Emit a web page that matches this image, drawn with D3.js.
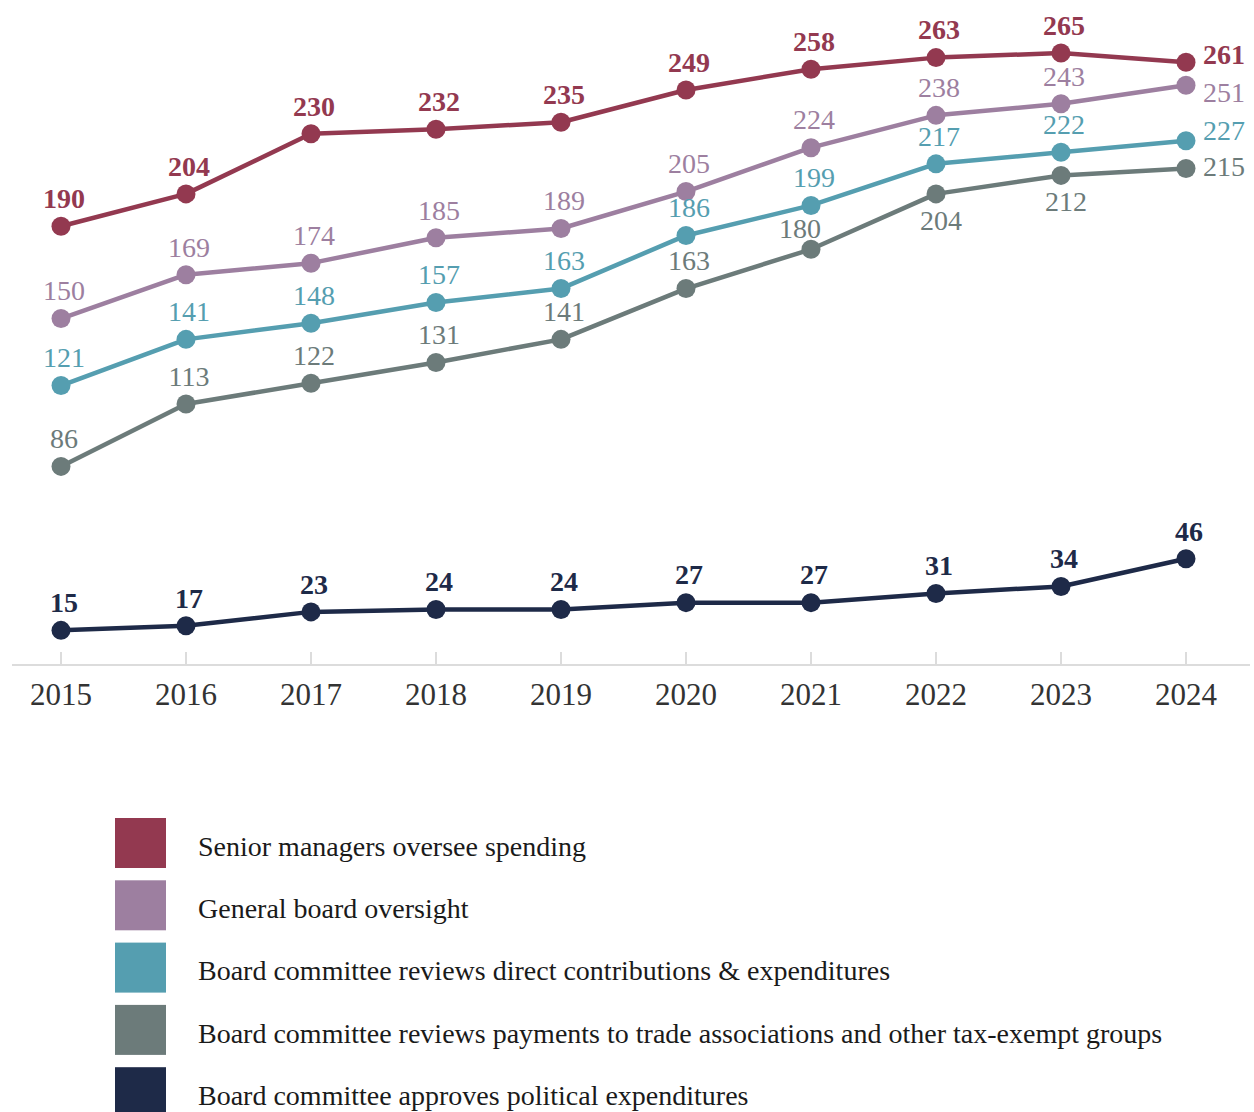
<!DOCTYPE html>
<html lang="en">
<head>
<meta charset="UTF-8">
<script src="https://d3js.org/d3.v7.min.js"></script>
<title>Oversight of political spending</title>
<style>
  body { margin: 0; background: #fff; }
  svg { display: block; font-family: "Liberation Serif", "DejaVu Serif", serif; }
</style>
</head>
<body>
<div id="chart"></div>
<script>
// data
const years = [2015, 2016, 2017, 2018, 2019, 2020, 2021, 2022, 2023, 2024];
const seniorManagers = [190, 204, 230, 232, 235, 249, 258, 263, 265, 261];
const generalBoard   = [150, 169, 174, 185, 189, 205, 224, 238, 243, 251];
const committeeDirect = [121, 141, 148, 157, 163, 186, 199, 217, 222, 227];
const committeeTrade  = [86, 113, 122, 131, 141, 163, 180, 204, 212, 215];
const committeeApproves = [15, 17, 23, 24, 24, 27, 27, 31, 34, 46];
const seriesNames = [
  "Senior managers oversee spending",
  "General board oversight",
  "Board committee reviews direct contributions & expenditures",
  "Board committee reviews payments to trade associations and other tax-exempt groups",
  "Board committee approves political expenditures"
];
const colors = ["#933950", "#9d7fa0", "#559eb0", "#6c7b7a", "#1e2a48"];

const series = [seniorManagers, generalBoard, committeeDirect, committeeTrade, committeeApproves]
  .map((vals, i) => ({ name: seriesNames[i], color: colors[i], values: vals, bold: i === 0 || i === 4 }));

const w = 1254, h = 1112;
const svg = d3.select("#chart").append("svg").attr("width", w).attr("height", h);

const x = d3.scaleLinear().domain([2015, 2024]).range([61, 1186]);
const y = d3.scaleLinear().domain([0, 265]).range([665, 53]);

// axis
const axis = svg.append("g").attr("transform", "translate(0,665)");
axis.append("line").attr("x1", 12).attr("x2", 1250).attr("stroke", "#dcdcdc").attr("stroke-width", 2);
axis.selectAll(".tick").data(years).join("line")
  .attr("x1", d => x(d)).attr("x2", d => x(d))
  .attr("y1", 0).attr("y2", -13)
  .attr("stroke", "#dcdcdc").attr("stroke-width", 2);
axis.selectAll("text").data(years).join("text")
  .attr("x", d => x(d)).attr("y", 40)
  .attr("text-anchor", "middle")
  .attr("font-size", 31).attr("fill", "#333")
  .text(d => d);

const line = d3.line().x((d, i) => x(years[i])).y(d => y(d));

// label placement tweaks (series index -> year index -> [dx, dy, anchor])
function labelPos(si, yi) {
  if (yi === years.length - 1 && si < 4) {
    const dy = [-8, 7, -11, -2][si];
    return [17, dy, "start"];
  }
  if (si === 3 && (yi === 7 || yi === 8)) return [5, 26, "middle"];
  if (si === 3 && yi === 6) return [-11, -21, "middle"];
  return [3, -28, "middle"];
}

series.forEach((s, si) => {
  const g = svg.append("g");
  g.append("path").datum(s.values)
    .attr("d", line)
    .attr("fill", "none")
    .attr("stroke", s.color)
    .attr("stroke-width", 4.5)
    .attr("stroke-linejoin", "round");
  g.selectAll("circle").data(s.values).join("circle")
    .attr("cx", (d, i) => x(years[i]))
    .attr("cy", d => y(d))
    .attr("r", 9.5)
    .attr("fill", s.color);
  g.selectAll("text").data(s.values).join("text")
    .attr("x", (d, i) => x(years[i]) + labelPos(si, i)[0])
    .attr("y", (d, i) => y(d) + labelPos(si, i)[1])
    .attr("dy", "0.35em")
    .attr("text-anchor", (d, i) => labelPos(si, i)[2])
    .attr("font-size", 28)
    .attr("font-weight", s.bold ? "bold" : "normal")
    .attr("fill", s.color)
    .text(d => d);
});

// legend
const legend = svg.append("g").attr("transform", "translate(115,818)");
const item = legend.selectAll("g").data(series).join("g")
  .attr("transform", (d, i) => `translate(0,${i * 62.3})`);
item.append("rect").attr("width", 51).attr("height", 50).attr("fill", d => d.color);
item.append("text")
  .attr("x", 83).attr("y", 28).attr("dy", "0.35em")
  .attr("font-size", 28).attr("fill", "#1a1a1a")
  .text(d => d.name);
</script>
</body>
</html>
